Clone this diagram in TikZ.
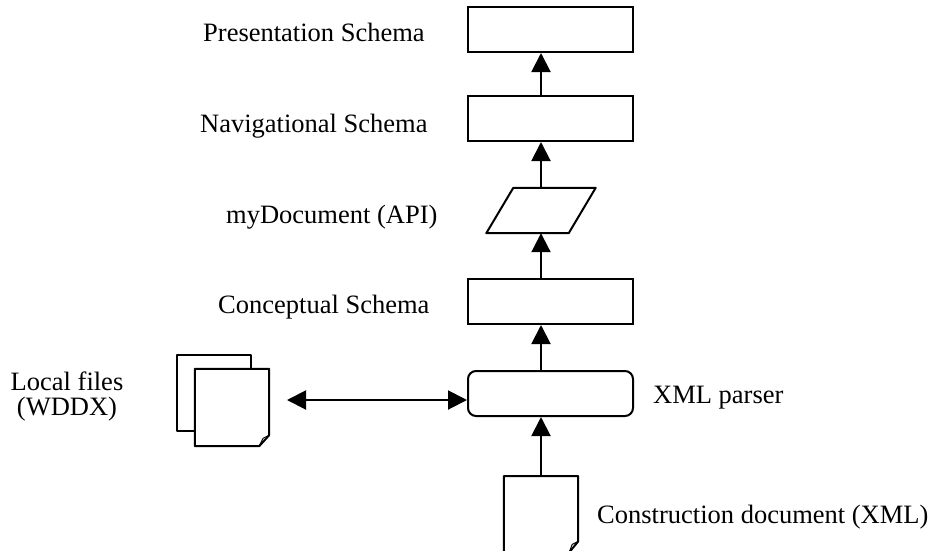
\documentclass[tikz,border=0pt]{standalone}
\usepackage{fontspec}
\setmainfont{Liberation Serif}
\usetikzlibrary{arrows.meta,calc}
\tikzset{
  schema/.style={draw,line width=2pt,minimum width=165pt,minimum height=45pt,inner sep=0pt},
  label/.style={font=\fontsize{26.5}{25}\selectfont,inner sep=0pt,anchor=base west},
  flow/.style={line width=2pt,-{Triangle[width=19pt,length=19pt]}},
  outline/.style={line width=2pt,line join=round}
}

\begin{document}
\begin{tikzpicture}[x=1pt,y=-1pt]
    \useasboundingbox (0,0) rectangle (932,550);
    % schema boxes
    \node[schema] (pres) at (550.5,29.5) {};
    \node[schema] (nav) at (550.5,118.5) {};
    \node[schema] (conc) at (550.5,301.5) {};
    \node[schema,rounded corners=8pt] (xml) at (550.5,393.5) {};
    % api parallelogram
    \node[minimum width=109pt,minimum height=45pt,inner sep=0pt] (api) at (541,210.5) {};
    \draw[outline,fill=white] ($(api.north west)+(27,0)$) -- (api.north east)
      -- ($(api.south east)-(27,0)$) -- (api.south west) -- cycle;
    % construction document
    \node[minimum width=74pt,minimum height=76pt,inner sep=0pt,anchor=north] (cdoc) at (541,476) {};
    \draw[outline,fill=white] (cdoc.south west) -- (cdoc.north west) -- (cdoc.north east)
      -- ($(cdoc.south east)+(0,-11)$) -- ($(cdoc.south east)+(-9,0)$) -- cycle;
    \draw[line width=1pt,line join=round] ($(cdoc.south east)+(-9,0)$) -- ($(cdoc.south east)+(-6,-8)$) -- ($(cdoc.south east)+(0,-11)$);
    % local files
    \node[minimum width=74pt,minimum height=76pt,inner sep=0pt] (back) at (214,393) {};
    \draw[outline,fill=white] (back.south west) rectangle (back.north east);
    \node[minimum width=74pt,minimum height=77pt,inner sep=0pt] (front) at (232,407.5) {};
    \draw[outline,fill=white] (front.south west) -- (front.north west) -- (front.north east)
      -- ($(front.south east)+(0,-11)$) -- ($(front.south east)+(-10,0)$) -- cycle;
    \draw[line width=1pt,line join=round] ($(front.south east)+(-10,0)$) -- ($(front.south east)+(-6,-8)$) -- ($(front.south east)+(0,-11)$);
    \coordinate (lf) at (287,400);
    % connectors
    \draw[flow] (nav.north -| api) -- (pres.south -| api);
    \draw[flow] (api.north) -- (nav.south -| api);
    \draw[flow] (conc.north -| api) -- (api.south);
    \draw[flow] (xml.north -| api) -- (conc.south -| api);
    \draw[flow] (cdoc.north) -- (xml.south -| cdoc);
    \draw[flow,{Triangle[width=19pt,length=19pt]}-{Triangle[width=19pt,length=19pt]}] (lf) -- (xml.west |- lf);
    % labels
    \node[label] (lpres) at (203,41) {Presentation Schema};
    \node[label] (lnav) at (200,132) {Navigational Schema};
    \node[label] (lapi) at (226,223) {myDocument (API)};
    \node[label] (lconc) at (218,313) {Conceptual Schema};
    \node[label,anchor=base,align=center] (lfiles) at (67,415) {Local files\\(WDDX)};
    \node[label] (lxml) at (653,403) {XML parser};
    \node[label] (lcdoc) at (597,523) {Construction document (XML)};
\end{tikzpicture}
\end{document}
